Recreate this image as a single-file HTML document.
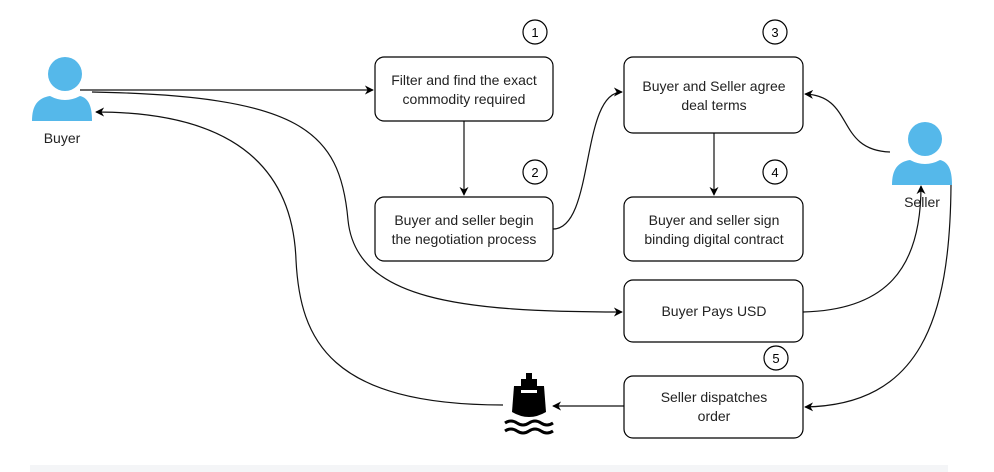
<!DOCTYPE html>
<html><head><meta charset="utf-8"><style>
html,body{margin:0;padding:0;background:#fff;}
svg{display:block;font-family:"Liberation Sans",Arial,sans-serif;}
</style></head><body>
<svg width="994" height="472" viewBox="0 0 994 472" xmlns="http://www.w3.org/2000/svg">
<defs>
<marker id="a" viewBox="0 0 10 10" refX="9" refY="5" markerWidth="9" markerHeight="9" orient="auto" markerUnits="userSpaceOnUse">
<path d="M0,0 L10,5 L0,10 L3,5 Z" fill="#000"/></marker>
</defs>
<rect x="30" y="465" width="918" height="7" fill="#f4f5f7"/>
<g fill="#55b8ea">
<circle cx="65" cy="74" r="17"/>
<path d="M32,121 C32,105 38,98 50,96 Q65,104 80,96 C88,98 92,105 92,121 Z"/>
<circle cx="925" cy="139" r="17"/>
<path d="M892,185 C892,169 898,162 910,160 Q925,168 940,160 C948,162 952,169 952,185 Z"/>
</g>
<g font-size="14" fill="#222" text-anchor="middle">
<text x="62" y="143">Buyer</text>
<text x="922" y="207">Seller</text>
</g>
<g fill="none" stroke="#111" stroke-width="1.2">
<path d="M80,90 L373,90" marker-end="url(#a)"/>
<path d="M92,92 C300,96 340,130 348,220 C356,300 460,312 622,312" marker-end="url(#a)"/>
<path d="M503,405 C330,405 300,340 296,260 C292,150 210,112 96,112" marker-end="url(#a)"/>
<path d="M464,121 L464,195" marker-end="url(#a)"/>
<path d="M553,229 C595,229 580,92 622,92" marker-end="url(#a)"/>
<path d="M714,133 L714,195" marker-end="url(#a)"/>
<path d="M890,152 C835,150 855,96 805,94" marker-end="url(#a)"/>
<path d="M803,312 C885,310 921,270 921,186" marker-end="url(#a)"/>
<path d="M951,185 C950,320 920,405 805,407" marker-end="url(#a)"/>
<path d="M624,406 L553,406" marker-end="url(#a)"/>
</g>
<g fill="#fff" stroke="#000" stroke-width="1.2">
<rect x="375" y="57" width="178" height="64" rx="9"/>
<rect x="375" y="197" width="178" height="64" rx="9"/>
<rect x="624" y="57" width="179" height="76" rx="9"/>
<rect x="624" y="197" width="179" height="64" rx="9"/>
<rect x="624" y="280" width="179" height="62" rx="9"/>
<rect x="624" y="376" width="179" height="62" rx="9"/>
<circle cx="535" cy="32" r="12"/>
<circle cx="535" cy="172" r="12"/>
<circle cx="775" cy="32" r="12"/>
<circle cx="775" cy="172" r="12"/>
<circle cx="776" cy="358" r="12"/>
</g>
<g font-size="13" fill="#000" text-anchor="middle">
<text x="535" y="37">1</text><text x="535" y="177">2</text>
<text x="775" y="37">3</text><text x="775" y="177">4</text><text x="776" y="363">5</text>
</g>
<g font-size="14" fill="#222" text-anchor="middle">
<text x="464" y="85">Filter and find the exact</text>
<text x="464" y="104">commodity required</text>
<text x="464" y="225">Buyer and seller begin</text>
<text x="464" y="244">the negotiation process</text>
<text x="714" y="91">Buyer and Seller agree</text>
<text x="714" y="110">deal terms</text>
<text x="714" y="225">Buyer and seller sign</text>
<text x="714" y="244">binding digital contract</text>
<text x="714" y="316">Buyer Pays USD</text>
<text x="714" y="402">Seller dispatches</text>
<text x="714" y="421">order</text>
</g>
<g fill="#000">
<rect x="526" y="373" width="6" height="6"/>
<rect x="521" y="379" width="16" height="7"/>
<path d="M514,386 L544,386 L546,412 Q529,422 512,412 Z"/>
</g>
<rect x="521" y="390" width="16" height="3" fill="#fff"/>
<g fill="none" stroke="#000" stroke-width="3">
<path d="M505,423 q6,-4 12,0 q6,4 12,0 q6,-4 12,0 q6,4 12,0"/>
<path d="M505,431 q6,-4 12,0 q6,4 12,0 q6,-4 12,0 q6,4 12,0"/>
</g>
</svg>
</body></html>
